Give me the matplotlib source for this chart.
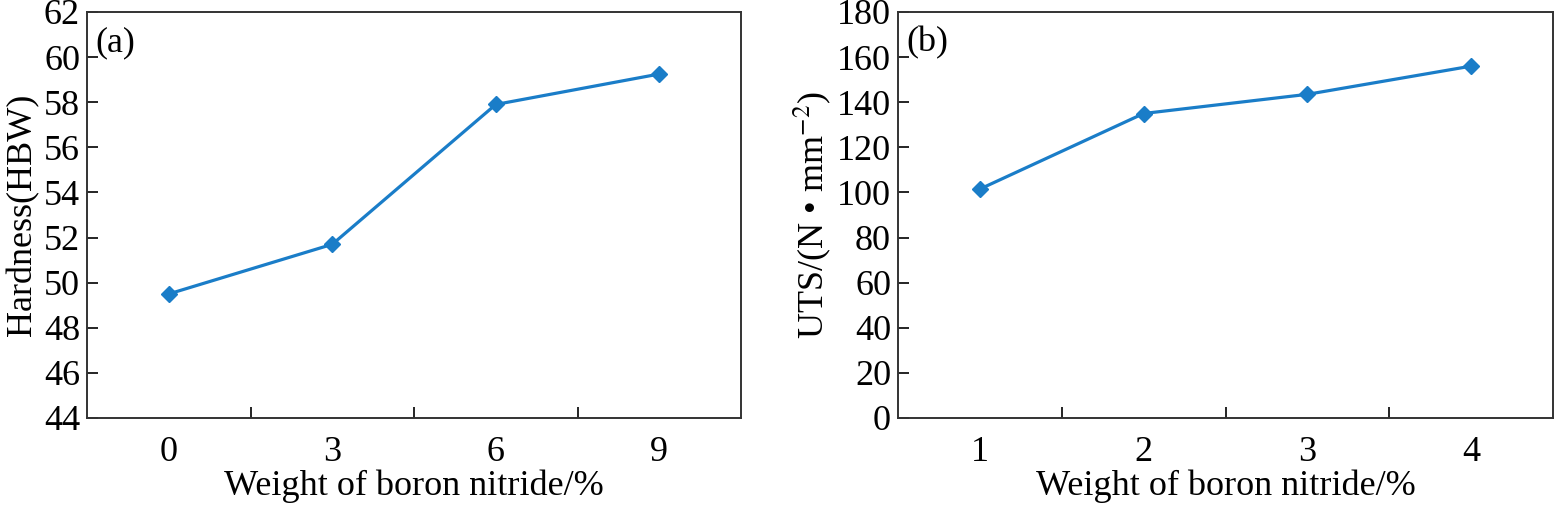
import matplotlib
matplotlib.use("Agg")
import matplotlib.pyplot as plt
from matplotlib.ticker import FixedLocator

# data
hard_labels = ["0", "3", "6", "9"]
hardness = [49.5, 51.7, 57.9, 59.25]

uts_labels = ["1", "2", "3", "4"]
uts = [101.5, 135.0, 143.5, 156.0]

plt.rcParams["font.family"] = ["Liberation Serif", "DejaVu Serif"]
plt.rcParams["mathtext.fontset"] = "stix"

line_color = "#1a7dc8"
fs = 26

fig = plt.figure(figsize=(15.55, 5.07), dpi=100)
ax1 = fig.add_axes([87 / 1555, 1 - 418 / 507, (741 - 87) / 1555, (418 - 12) / 507])
ax2 = fig.add_axes([898 / 1555, 1 - 418 / 507, (1553 - 898) / 1555, (418 - 12) / 507])


def style(ax, labels, values, ylim, yticks, ylabel, tag):
    x = list(range(len(labels)))
    ax.plot(x, values, color=line_color, lw=2.3, marker="D", ms=8)
    ax.set_xlim(-0.5, len(labels) - 0.5)
    ax.set_ylim(*ylim)
    ax.set_xticks(x)
    ax.set_xticklabels(labels)
    ax.xaxis.set_minor_locator(FixedLocator([i + 0.5 for i in x[:-1]]))
    ax.tick_params(axis="x", which="major", length=0, pad=13, labelsize=fs)
    ax.tick_params(axis="x", which="minor", direction="in", length=8, width=1.2)
    ax.set_yticks(yticks)
    ax.tick_params(axis="y", direction="in", length=8, width=1.2, pad=5, labelsize=fs)
    for s in ax.spines.values():
        s.set_linewidth(1.4)
        s.set_color("#333333")
    ax.set_xlabel("Weight of boron nitride/%", fontsize=fs, labelpad=0)
    ax.set_ylabel(ylabel, fontsize=fs, labelpad=3)
    ax.text(0.013, 0.925, tag, transform=ax.transAxes, fontsize=fs, va="center", ha="left")


style(ax1, hard_labels, hardness, (44, 62), list(range(44, 63, 2)), "Hardness(HBW)", "(a)")
style(ax2, uts_labels, uts, (0, 180), list(range(0, 181, 20)),
      "UTS/(N • mm$^{-2}$)", "(b)")

fig.savefig("out.png", dpi=100)
